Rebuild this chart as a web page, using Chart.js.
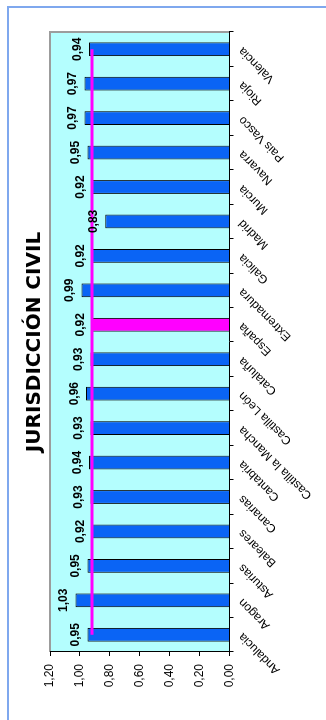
<!DOCTYPE html>
<html>
<head>
<meta charset="utf-8">
<script src="https://cdn.jsdelivr.net/npm/chart.js@4.4.0/dist/chart.umd.min.js"></script>
<style>
	html, body { margin: 0; padding: 0; background: #fff; width: 326px; height: 720px; overflow: hidden; }
	#marco { position: absolute; left: 7px; top: 6px; width: 340px; height: 740px; border-left: 2px solid #7fa8ee; border-top: 2px solid #7fa8ee; }
	#giro { position: absolute; left: 0; top: 720px; width: 720px; height: 326px; transform-origin: 0 0; transform: rotate(-90deg); }
</style>
</head>
<body>
<div id="marco"></div>
<div id="giro"><canvas id="civilChart" width="720" height="326"></canvas></div>
<script>
// ===== DATA =====
const categorias = ['Andalucia', 'Aragon', 'Asturias', 'Baleares', 'Canarias', 'Cantabria',
	'Castilla la Mancha', 'Castilla León', 'Cataluña', 'España', 'Extremadura', 'Galicia',
	'Madrid', 'Murcia', 'Navarra', 'Pais Vasco', 'Rioja', 'Valencia'];
const valores = [0.95, 1.03, 0.95, 0.92, 0.93, 0.94, 0.93, 0.96, 0.93, 0.92, 0.99, 0.92,
	0.83, 0.92, 0.95, 0.97, 0.97, 0.94];
const mediaEspana = [0.92, 0.92, 0.92, 0.92, 0.92, 0.92, 0.92, 0.92, 0.92, 0.92, 0.92, 0.92,
	0.92, 0.92, 0.92, 0.92, 0.92, 0.92];
const ejeMin = 0;
const ejeMax = 1.2;
const ejePaso = 0.2;

const AZUL = '#0a64f5';
const MAGENTA = '#ff00ff';
const fuente = '"Liberation Sans", Arial, sans-serif';

const coma = v => v.toFixed(2).replace('.', ',');

// ===== PLUGINS =====
const fondoPlot = {
	id: 'fondoPlot',
	beforeDraw(chart) {
		const { ctx, chartArea: a } = chart;
		ctx.save();
		ctx.fillStyle = '#b4fefe';
		ctx.fillRect(a.left, a.top, a.right - a.left, a.bottom - a.top);
		ctx.strokeStyle = '#9c9c9c';
		ctx.lineWidth = 2;
		ctx.beginPath();
		ctx.moveTo(a.left, a.top);
		ctx.lineTo(a.right, a.top);
		ctx.lineTo(a.right, a.bottom);
		ctx.stroke();
		ctx.restore();
	}
};

const etiquetas = {
	id: 'etiquetas',
	afterDatasetsDraw(chart) {
		const ctx = chart.ctx;
		const meta = chart.getDatasetMeta(0);
		ctx.save();
		ctx.font = 'bold 12px ' + fuente;
		ctx.fillStyle = '#000';
		ctx.textAlign = 'center';
		ctx.textBaseline = 'alphabetic';
		meta.data.forEach((bar, i) => {
			ctx.fillText(coma(valores[i]), bar.x, bar.y - 8);
		});
		ctx.restore();
	}
};

// ===== CHART =====
const ctx = document.getElementById('civilChart').getContext('2d');

new Chart(ctx, {
	type: 'bar',
	data: {
		labels: categorias,
		datasets: [{
			type: 'bar',
			data: valores,
			backgroundColor: categorias.map(c => c === 'España' ? MAGENTA : AZUL),
			borderColor: '#000',
			borderWidth: 1,
			barPercentage: 0.4,
			categoryPercentage: 1,
			order: 1
		}, {
			type: 'line',
			data: mediaEspana,
			borderColor: MAGENTA,
			borderWidth: 3,
			pointRadius: 0,
			tension: 0,
			order: 0
		}]
	},
	options: {
		responsive: false,
		animation: false,
		devicePixelRatio: 1,
		layout: { padding: { left: 0, right: 32, top: 0, bottom: 0 } },
		plugins: {
			legend: { display: false },
			tooltip: { enabled: false },
			title: {
				display: true,
				text: 'JURISDICCIÓN CIVIL',
				fullSize: false,
				color: '#000',
				font: { family: '"DejaVu Sans", Verdana, sans-serif', size: 20, weight: 'bold' },
				padding: { top: 23, bottom: 3 }
			}
		},
		scales: {
			x: {
				grid: { offset: true, drawOnChartArea: false, tickLength: 4, color: '#000' },
				border: { color: '#000', width: 1 },
				ticks: {
					autoSkip: false,
					minRotation: 45,
					maxRotation: 45,
					color: '#000',
					padding: 2,
					font: { family: fuente, size: 12 }
				},
				afterFit: s => { s.height = 96.5; }
			},
			y: {
				min: ejeMin,
				max: ejeMax,
				grid: { drawOnChartArea: false, tickLength: 4, color: '#000' },
				border: { color: '#000', width: 1 },
				ticks: {
					stepSize: ejePaso,
					color: '#000',
					padding: 8,
					font: { family: fuente, size: 12 },
					callback: v => coma(v)
				},
				afterFit: s => { s.width = 68; }
			}
		}
	},
	plugins: [fondoPlot, etiquetas]
});
</script>
</body>
</html>
